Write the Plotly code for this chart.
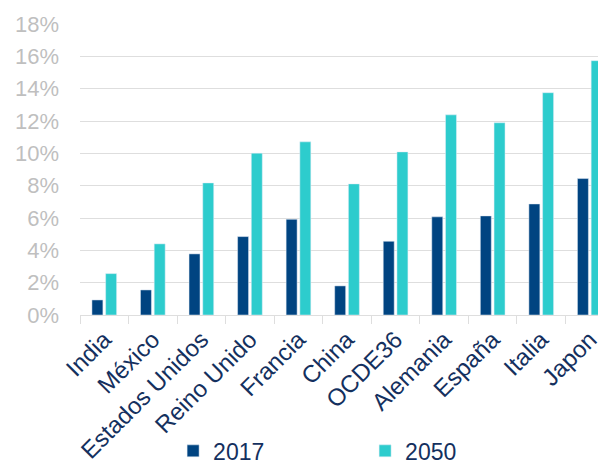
import plotly.graph_objects as go

categories = ["India", "México", "Estados Unidos", "Reino Unido", "Francia", "China",
              "OCDE36", "Alemania", "España", "Italia", "Japon"]
values_2017 = [0.0093, 0.0155, 0.0378, 0.0485, 0.0592, 0.0180, 0.0456, 0.0607, 0.0613, 0.0687, 0.0844]
values_2050 = [0.0256, 0.0440, 0.0817, 0.1001, 0.1071, 0.0811, 0.1009, 0.1238, 0.1189, 0.1375, 0.1573]
y_ticks = [0, 0.02, 0.04, 0.06, 0.08, 0.10, 0.12, 0.14, 0.16, 0.18]

NAVY = "#004481"
AQUA = "#2dcccd"
TEXT = "#14305e"
GRID = "#dedede"

fig = go.Figure()
fig.add_trace(go.Bar(name="2017", x=categories, y=values_2017, marker_color=NAVY))
fig.add_trace(go.Bar(name="2050", x=categories, y=values_2050, marker_color=AQUA))

fig.update_layout(
    width=598, height=454,
    margin=dict(l=72, r=0, t=16, b=147, autoexpand=False),
    paper_bgcolor="white", plot_bgcolor="white",
    font=dict(family="Liberation Sans, Arial, sans-serif", size=22, color=TEXT),
    barmode="group", bargap=0.435, bargroupgap=0.2,
    showlegend=True,
    legend=dict(orientation="h", x=0.177, xanchor="left", y=-0.467, yanchor="middle",
                font=dict(size=23, color=TEXT), itemwidth=30, entrywidth=147,
                bgcolor="rgba(0,0,0,0)"),
)
fig.update_xaxes(
    type="category", range=[-0.5, 10.334], tickangle=-45, automargin=False,
    showline=True, linecolor=GRID, linewidth=1,
    ticks="outside", tickson="boundaries", ticklen=8, tickcolor=GRID,
    showgrid=False, tickfont=dict(size=24, color=TEXT),
)
fig.update_yaxes(
    range=[0, 0.18], tickvals=y_ticks, tickformat=".0%", automargin=False,
    showgrid=True, gridcolor=GRID, gridwidth=1, zeroline=False,
    showline=False, ticks="", ticklabelstandoff=20,
    tickfont=dict(size=22, color="#bfbfbf"),
)

fig.write_html("out.html")
